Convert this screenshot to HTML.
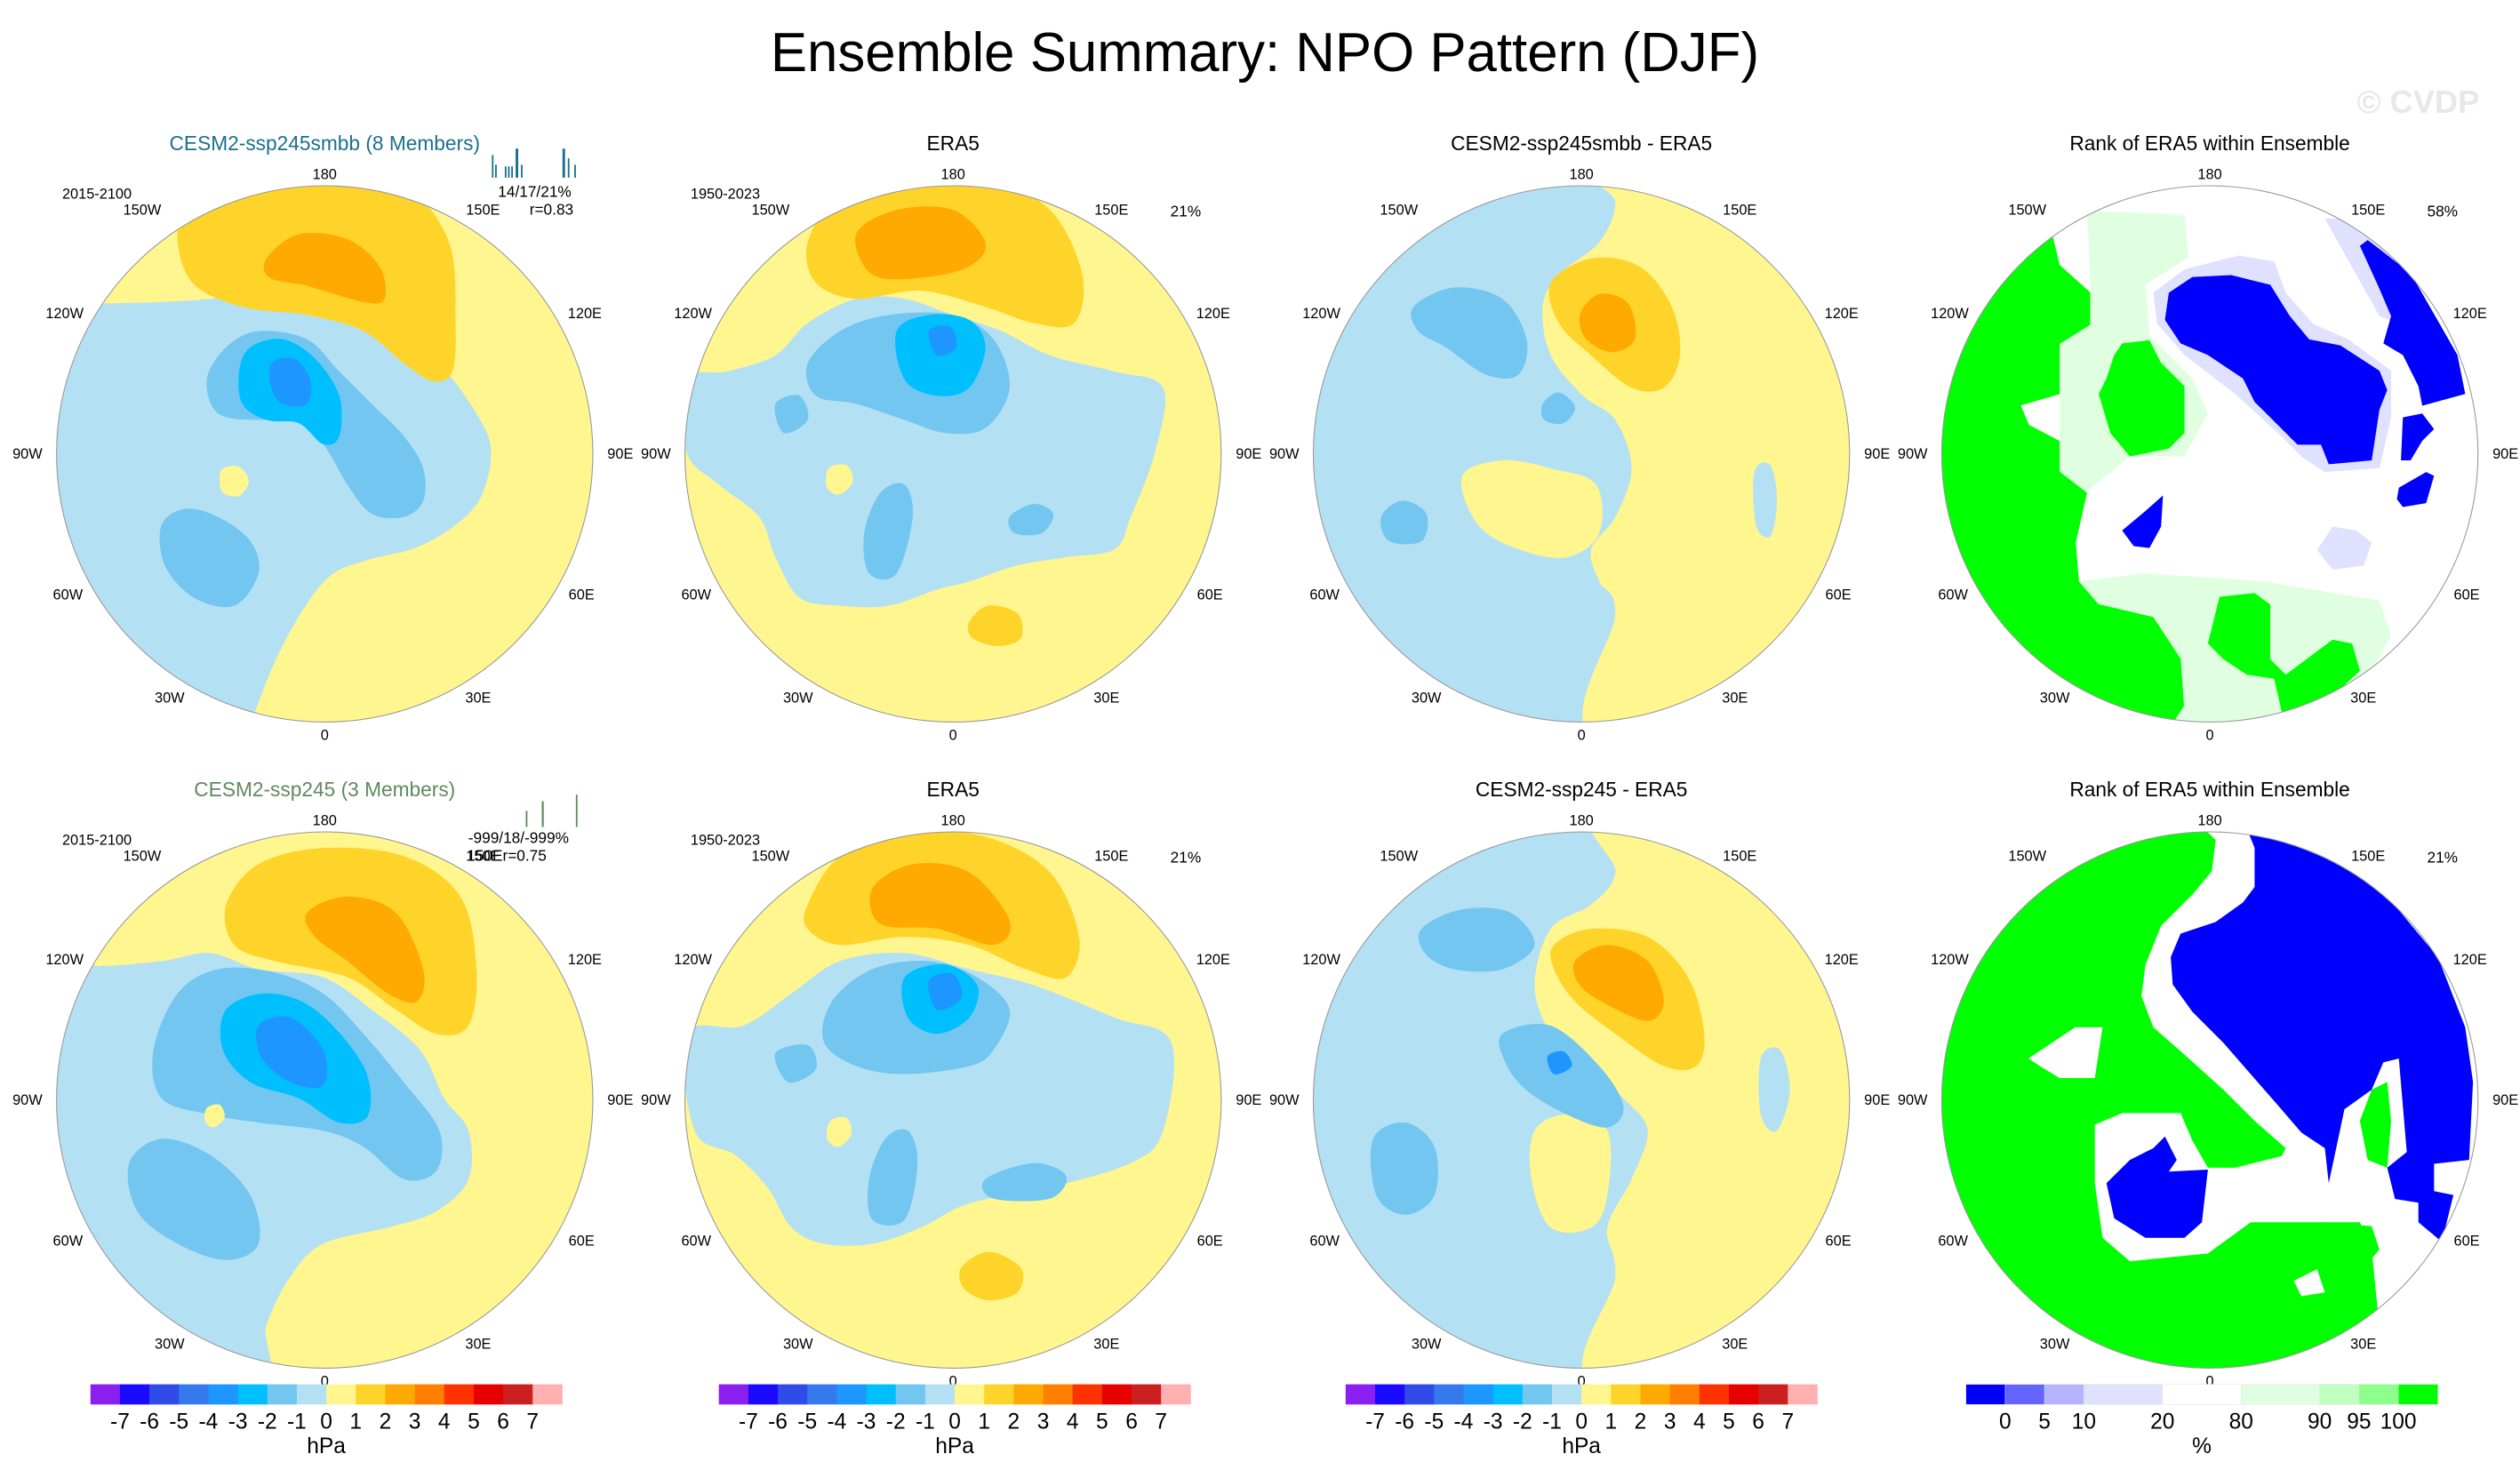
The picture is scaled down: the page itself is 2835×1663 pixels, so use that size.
<!DOCTYPE html>
<html><head><meta charset="utf-8"><title>Ensemble Summary: NPO Pattern (DJF)</title>
<style>html,body{margin:0;padding:0;background:#fff}svg{display:block}text{font-family:"Liberation Sans",sans-serif}</style>
</head><body>
<svg id="fig" xmlns="http://www.w3.org/2000/svg" width="2835" height="1663" viewBox="0 0 1560 915" preserveAspectRatio="none">
<text x="783" y="44" font-size="34" text-anchor="middle" textLength="612" lengthAdjust="spacingAndGlyphs">Ensemble Summary: NPO Pattern (DJF)</text>
<text x="1497" y="70" font-size="20" font-weight="bold" fill="#e8e8e8" text-anchor="middle">© CVDP</text>
<g id="panels"></g>
<g id="cbars"></g>
</svg>
<script>
// ---- colorbar data ----
const pslLevels = [-7,-6,-5,-4,-3,-2,-1,0,1,2,3,4,5,6,7];
const pslColors = ["#8a1ff0","#1a0aff","#2f4be8","#3679ea","#1e96ff","#00bfff","#73c6f0","#b4e0f4","#fff68f","#ffd42a","#ffaa00","#ff7f00","#ff3300","#e60000","#cc1f1f","#ffb0b0"];
const rankLabels = ["0","5","10","20","80","90","95","100"];
const rankUnits = [1,1,1,2,2,2,1,1,1];
const rankColors = ["#0000ff","#6464ff","#b4b4ff","#e0e0ff","#ffffff","#e0ffe0","#c0ffc0","#8cff8c","#00ff00"];

const NS="http://www.w3.org/2000/svg";
const C={y:"#fff68f",lb:"#b4e0f4",mb:"#73c6f0",cy:"#00bfff",db:"#1e96ff",g:"#ffd42a",o:"#ffaa00",w:"#ffffff",gr:"#00ff00",lg:"#e0ffe0",bl:"#0000ff",lv:"#e0e0ff"};
function el(tag,attrs,parent){const e=document.createElementNS(NS,tag);for(const k in attrs)e.setAttribute(k,attrs[k]);parent.appendChild(e);return e;}
function smooth(p){let d="M"+p[0][0]+","+p[0][1];const n=p.length;for(let i=0;i<n;i++){const p0=p[(i-1+n)%n],p1=p[i],p2=p[(i+1)%n],p3=p[(i+2)%n];
d+=" C"+(p1[0]+(p2[0]-p0[0])/6).toFixed(1)+","+(p1[1]+(p2[1]-p0[1])/6).toFixed(1)+" "+(p2[0]-(p3[0]-p1[0])/6).toFixed(1)+","+(p2[1]-(p3[1]-p1[1])/6).toFixed(1)+" "+p2[0]+","+p2[1];}return d+"Z";}
function poly(p){return "M"+p.map(q=>q[0].toFixed(1)+","+q[1].toFixed(1)).join("L")+"Z";}
function mapZ(p,oy){return p.map(q=>[1183.3+q[0]*0.2414,oy+q[1]*0.2414]);}

const panels=[
 {cx:201,cy:281,bg:C.y,title:"CESM2-ssp245smbb (8 Members)",tc:"#1a6f8f",left:"2015-2100",smooth:true,shapes:[
  [C.lb,[[20,190],[62,188],[100,187],[130,185],[180,180],[215,190],[240,205],[265,220],[282,237],[300,265],[304,282],[300,302],[292,316],[275,330],[255,340],[230,346],[205,356],[186,380],[170,410],[158,440],[150,460],[20,460]]],
  [C.g,[[115,130],[140,110],[200,104],[250,115],[278,150],[282,200],[280,230],[268,236],[250,225],[225,205],[190,195],[150,190],[120,176],[110,150]]],
  [C.o,[[165,160],[185,145],[215,148],[235,165],[238,185],[225,187],[190,177],[167,172]]],
  [C.mb,[[140,215],[160,205],[190,210],[210,230],[230,250],[250,270],[262,290],[262,310],[250,320],[230,318],[215,300],[200,275],[180,258],[160,260],[135,256],[128,235]]],
  [C.mb,[[100,325],[115,315],[135,320],[155,335],[160,355],[145,375],[120,370],[102,350]]],
  [C.cy,[[155,215],[175,210],[195,222],[210,245],[210,270],[200,275],[185,262],[165,260],[150,250],[148,230]]],
  [C.db,[[168,225],[182,222],[192,235],[190,250],[175,250],[168,240]]],
  [C.y,[[138,290],[148,289],[154,298],[148,307],[138,305],[136,296]]]]},
 {cx:590,cy:281,bg:C.y,title:"ERA5",tc:"#000",left:"1950-2023",right:"21%",smooth:true,shapes:[
  [C.lb,[[425,235],[450,230],[480,220],[500,200],[530,185],[560,185],[590,195],[620,205],[650,220],[690,230],[720,240],[715,280],[700,320],[690,340],[660,345],[630,350],[600,360],[580,365],[550,375],[520,375],[495,370],[480,345],[470,320],[445,300],[425,280]]],
  [C.g,[[500,150],[520,120],[560,105],[610,110],[650,130],[670,170],[665,200],[640,200],[610,190],[570,180],[530,185],[505,175]]],
  [C.o,[[530,145],[555,130],[590,130],[610,150],[600,165],[570,172],[540,170]]],
  [C.mb,[[500,225],[520,205],[550,195],[590,195],[615,210],[625,240],[610,265],[585,268],[560,260],[530,250],[505,245]]],
  [C.mb,[[535,330],[545,305],[560,300],[565,320],[555,355],[538,355]]],
  [C.mb,[[625,320],[640,312],[652,318],[645,330],[628,330]]],
  [C.mb,[[480,250],[495,245],[500,260],[485,268]]],
  [C.cy,[[555,205],[575,195],[600,198],[610,215],[600,240],[580,245],[560,235]]],
  [C.db,[[575,205],[588,202],[592,215],[580,220]]],
  [C.g,[[600,385],[612,375],[630,380],[632,395],[618,400],[602,395]]],
  [C.y,[[513,290],[524,288],[528,298],[520,306],[512,302]]]]},
 {cx:979,cy:281,bg:C.lb,title:"CESM2-ssp245smbb - ERA5",tc:"#000",smooth:true,shapes:[
  [C.y,[[990,100],[1000,125],[990,150],[965,170],[955,190],[960,220],[980,245],[1000,260],[1010,290],[1000,320],[985,340],[990,360],[1000,380],[990,460],[1170,460],[1170,100]]],
  [C.y,[[905,295],[930,285],[960,290],[988,300],[990,330],[970,345],[940,340],[915,325]]],
  [C.lb,[[1086,292],[1096,288],[1100,310],[1096,332],[1087,325]]],
  [C.g,[[960,175],[985,160],[1015,165],[1035,190],[1040,220],[1030,240],[1010,240],[985,220],[965,200]]],
  [C.o,[[978,195],[990,182],[1008,188],[1012,210],[998,218],[982,210]]],
  [C.mb,[[875,190],[900,178],[930,185],[945,210],[940,232],[920,232],[895,215],[878,205]]],
  [C.mb,[[855,320],[868,310],[883,318],[880,335],[860,335]]],
  [C.mb,[[955,250],[965,243],[975,252],[968,262],[956,260]]]]},
 {cx:1368,cy:281,bg:C.w,title:"Rank of ERA5 within Ensemble",tc:"#000",right:"58%",smooth:false,shapes:[
  [C.lg,mapZ([[450,130],[700,140],[710,250],[600,320],[610,450],[720,560],[760,650],[700,760],[560,760],[450,850],[380,800],[380,470],[460,420],[460,340]],99.1)],
  [C.lg,mapZ([[430,1080],[600,1060],[900,1080],[1200,1130],[1230,1220],[1170,1330],[1000,1470],[800,1500],[620,1500],[690,1280],[620,1170],[480,1140]],99.1)],
  [C.gr,[[1292,120],[1292,130],[1270,143],[1275,164],[1294,181],[1294,201],[1275,213],[1275,244],[1251,251],[1256,263],[1275,273],[1275,292],[1292,305],[1285,336],[1287,360],[1299,374],[1333,382],[1350,408],[1352,437],[1343,451],[1318,449],[1300,470],[1180,470],[1180,120]]],
  [C.gr,mapZ([[540,470],[610,462],[640,520],[700,580],[700,700],[660,740],[560,760],[510,700],[480,600],[500,560],[520,500]],99.1)],
  [C.gr,mapZ([[790,1120],[880,1110],[920,1140],[920,1280],[960,1320],[1080,1230],[1130,1240],[1150,1310],[1000,1450],[960,1460],[930,1330],[860,1320],[800,1280],[760,1240]],99.1)],
  [C.gr,mapZ([[820,1470],[900,1455],[945,1500],[820,1510]],99.1)],
  [C.lv,mapZ([[620,340],[700,280],[840,245],[930,260],[960,340],[1030,420],[1120,460],[1230,540],[1230,660],[1200,790],[1060,800],[1000,760],[940,700],[830,600],[700,500],[630,420]],99.1)],
  [C.lv,mapZ([[1040,1000],[1080,940],[1140,950],[1180,980],[1160,1040],[1080,1050]],99.1)],
  [C.lv,mapZ([[1060,150],[1130,150],[1230,250],[1250,420],[1200,400]],99.1)],
  [C.bl,mapZ([[660,340],[720,300],[820,295],[920,320],[970,400],[1020,460],[1100,475],[1200,540],[1220,590],[1200,640],[1180,770],[1070,780],[1050,730],[990,730],[920,660],[880,620],[850,560],[760,500],[690,470],[650,410]],99.1)],
  [C.bl,mapZ([[1150,220],[1170,205],[1280,290],[1400,500],[1420,600],[1310,630],[1300,580],[1260,500],[1210,470],[1230,400],[1200,330]],99.1)],
  [C.bl,mapZ([[1260,660],[1310,650],[1340,690],[1310,720],[1280,770],[1255,770]],99.1)],
  [C.bl,mapZ([[1250,840],[1320,800],[1340,810],[1320,880],[1260,890],[1245,870]],99.1)],
  [C.bl,mapZ([[540,950],[600,900],[645,860],[640,940],[610,995],[570,990]],99.1)]]},
 {cx:201,cy:681,bg:C.y,title:"CESM2-ssp245 (3 Members)",tc:"#5f8a5f",left:"2015-2100",smooth:true,shapes:[
  [C.lb,[[20,595],[60,598],[100,595],[130,590],[160,600],[200,605],[230,625],[260,650],[275,680],[290,700],[290,730],[270,750],[240,760],[200,770],[180,790],[165,820],[155,860],[20,860]]],
  [C.g,[[140,560],[160,535],[200,525],[250,530],[285,555],[295,600],[290,635],[270,640],[245,625],[215,605],[170,595],[145,585]]],
  [C.o,[[190,565],[215,555],[245,565],[262,600],[258,620],[240,615],[215,595],[195,580]]],
  [C.mb,[[110,615],[135,600],[170,602],[200,615],[225,640],[250,670],[272,700],[270,725],[250,730],[225,710],[200,700],[160,695],[130,690],[100,680],[95,650]]],
  [C.mb,[[80,720],[100,705],[130,715],[155,740],[160,770],[140,780],[110,770],[85,750]]],
  [C.cy,[[140,625],[165,615],[195,625],[225,660],[228,690],[210,695],[185,680],[155,670],[138,650]]],
  [C.db,[[160,635],[180,630],[200,650],[200,672],[180,670],[162,655]]],
  [C.y,[[128,686],[136,684],[139,692],[132,698],[127,694]]]]},
 {cx:590,cy:681,bg:C.y,title:"ERA5",tc:"#000",left:"1950-2023",right:"21%",smooth:true,shapes:[
  [C.lb,[[425,640],[460,635],[490,615],[520,595],[560,590],[600,600],[640,610],[690,630],[725,645],[720,700],[700,720],[650,735],[600,745],[570,760],[540,770],[510,770],[490,760],[475,735],[455,715],[430,700]]],
  [C.g,[[500,560],[520,530],[560,515],[610,518],[650,540],[668,580],[660,605],[635,600],[600,585],[560,580],[520,585],[500,575]]],
  [C.o,[[540,550],[565,535],[600,540],[625,570],[615,585],[580,575],[545,572]]],
  [C.mb,[[515,620],[540,600],[575,595],[605,605],[625,625],[615,650],[600,660],[560,665],[530,660],[510,645]]],
  [C.mb,[[538,730],[548,705],[562,700],[568,720],[560,755],[540,755]]],
  [C.mb,[[610,730],[640,720],[660,728],[650,742],[615,742]]],
  [C.mb,[[480,652],[500,647],[505,662],[488,670]]],
  [C.cy,[[560,605],[585,597],[605,610],[600,630],[580,640],[562,630]]],
  [C.db,[[575,607],[590,603],[595,618],[580,625]]],
  [C.g,[[595,785],[612,775],[632,785],[630,800],[612,805],[597,798]]],
  [C.y,[[514,694],[524,692],[527,702],[519,710],[512,705]]]]},
 {cx:979,cy:681,bg:C.lb,title:"CESM2-ssp245 - ERA5",tc:"#000",smooth:true,shapes:[
  [C.y,[[995,500],[1000,540],[985,560],[960,575],[950,610],[960,640],[980,660],[1005,680],[1020,700],[1010,730],[995,760],[1000,790],[990,860],[1170,860],[1170,500]]],
  [C.y,[[950,700],[970,690],[995,700],[995,740],[985,760],[960,760],[948,730]]],
  [C.lb,[[1090,655],[1102,650],[1108,675],[1100,700],[1090,690]]],
  [C.g,[[962,585],[985,575],[1020,580],[1045,605],[1055,640],[1050,660],[1030,660],[1000,640],[975,620],[962,600]]],
  [C.o,[[975,595],[995,585],[1020,595],[1030,620],[1020,632],[995,622],[978,610]]],
  [C.mb,[[880,575],[905,563],[935,565],[950,585],[930,600],[900,600],[882,590]]],
  [C.mb,[[850,705],[870,695],[888,710],[888,740],[870,752],[852,740]]],
  [C.mb,[[930,640],[960,635],[990,660],[1005,685],[995,698],[970,690],[945,675],[932,658]]],
  [C.db,[[958,654],[968,651],[973,660],[962,665]]]]},
 {cx:1368,cy:681,bg:C.gr,title:"Rank of ERA5 within Ensemble",tc:"#000",right:"21%",smooth:false,shapes:[
  [C.w,mapZ([[730,30],[1500,30],[1500,1300],[1200,1330],[1180,1130],[1150,1060],[1050,1060],[870,1060],[760,1140],[560,1160],[490,1100],[470,960],[470,810],[540,780],[690,780],[720,850],[760,920],[830,920],[950,890],[960,870],[880,800],[800,720],[700,630],[620,560],[590,480],[600,400],[640,300],[720,220],[770,160],[780,80]],500.8)],
  [C.gr,mapZ([[1050,1060],[1180,1070],[1200,1130],[1140,1200],[1130,1300],[1100,1330],[1040,1200]],500.8)],
  [C.bl,mapZ([[860,50],[1000,70],[1200,200],[1350,380],[1420,560],[1440,700],[1430,900],[1340,910],[1340,980],[1390,990],[1360,1110],[1300,1060],[1300,1010],[1240,1000],[1220,920],[1270,880],[1250,640],[1210,650],[1180,720],[1110,770],[1100,820],[1070,960],[1060,870],[1000,830],[940,760],[870,680],[800,600],[720,520],[670,450],[665,380],[690,320],[780,290],[850,240],[880,200],[880,100]],500.8)],
  [C.gr,mapZ([[1180,720],[1220,700],[1230,800],[1220,920],[1170,900],[1150,800]],500.8)],
  [C.bl,mapZ([[500,960],[560,900],[620,870],[650,840],[680,900],[660,930],[760,925],[745,1060],[700,1100],[600,1100],[520,1050]],500.8)],
  [C.w,mapZ([[300,640],[360,600],[420,560],[490,560],[470,690],[380,690],[330,660]],500.8)],
  [C.w,mapZ([[980,1210],[1040,1180],[1060,1240],[1000,1250]],500.8)]]}
];
const lonLabels=[["180",0,-173],["150E",98,-151],["120E",161,-87],["90E",183,0],["60E",159,87],["30E",95,151],["0",0,174],["30W",-96,151],["60W",-159,87],["90W",-184,0],["120W",-161,-87],["150W",-113,-151]];
const R=166;
const G=document.getElementById("panels");
panels.forEach((p,i)=>{
  const g=el("g",{},G);
  
  
  const cp=el("clipPath",{id:"clip"+i},g);
  el("circle",{cx:p.cx,cy:p.cy,r:R},cp);
  const m=el("g",{"clip-path":"url(#clip"+i+")"},g);
  const bg=el("circle",{cx:p.cx,cy:p.cy,r:R+2,fill:p.bg},m);
  
  
  p.shapes.forEach((s,j)=>{
    const path=el("path",{d:p.smooth?smooth(s[1]):poly(s[1]),fill:s[0]},m);
    
    
  });
  const rim=el("circle",{cx:p.cx,cy:p.cy,r:R,fill:"none",stroke:"#999","stroke-width":0.6},g);
  
  
  const t=el("text",{x:p.cx,y:p.cy-188,"font-size":12.5,"text-anchor":"middle",fill:p.tc},g);
  t.textContent=p.title;
  
  
  lonLabels.forEach(l=>{
    const lt=el("text",{x:p.cx+l[1],y:p.cy+l[2]+3,"font-size":9,"text-anchor":"middle"},g);
    lt.textContent=l[0];
    
    
  });
  if(p.left){const a=el("text",{x:p.cx-141,y:p.cy-158,"font-size":9,"text-anchor":"middle"},g);a.textContent=p.left;
    
    }
  if(p.right){const b=el("text",{x:p.cx+144,y:p.cy-147,"font-size":9.5,"text-anchor":"middle"},g);b.textContent=p.right;
    
    }
});
function addText(x,y,s,txt,name,anchor,fill){const t=el("text",{x:x,y:y,"font-size":s,"text-anchor":anchor||"middle",fill:fill||"#000"},G);t.textContent=txt;
  
  }
addText(331,122,9.5,"14/17/21%","pattern-stats");
addText(355,133,9.5,"r=0.83","pattern-correlation","end");
addText(321,522,9.5,"-999/18/-999%","pattern-stats");
addText(289,533,9.5,"150Er=0.75","pattern-correlation","start");
const ticks1=[[305,1,14],[307,1,8],[313,1,7],[315,1,7],[317,1,7],[320,1.6,18],[323,1,8],[349,1.6,18],[352,1,12],[356,1,8]];
ticks1.forEach(t=>{const l=el("line",{x1:t[0],x2:t[0],y1:110-t[2],y2:110,stroke:"#1a6f8f","stroke-width":t[1]},G);
  
  });
const ticks2=[[326,1,10],[336,1.2,16],[357,1,20]];
ticks2.forEach(t=>{const l=el("line",{x1:t[0],x2:t[0],y1:512-t[2],y2:512,stroke:"#5f8a5f","stroke-width":t[1]},G);
  
  });

const CB=document.getElementById("cbars");
const cbY=857,cbH=12.5;
[56,445,833].forEach((x0,k)=>{
  const w=292/pslColors.length;
  const g=el("g",{},CB);
  
  
  pslColors.forEach((c,i)=>{const r=el("rect",{x:x0+i*w,y:cbY,width:w+0.2,height:cbH,fill:c},g);
    
    });
  pslLevels.forEach((v,i)=>{const t=el("text",{x:x0+(i+1)*w,y:cbY+cbH+15,"font-size":13.5,"text-anchor":"middle"},g);t.textContent=v;
    
    });
  const u=el("text",{x:x0+146,y:cbY+cbH+30,"font-size":13.5,"text-anchor":"middle"},g);u.textContent="hPa";
  
  
});
(function(){
  const x0=1217,total=292,uw=total/rankUnits.reduce((a,b)=>a+b,0);
  const g=el("g",{},CB);
  
  
  let x=x0;const bounds=[];
  rankColors.forEach((c,i)=>{const w=rankUnits[i]*uw;const r=el("rect",{x:x,y:cbY,width:w+0.2,height:cbH,fill:c,stroke:"#e4e4e4","stroke-width":0.3},g);
    
    
    x+=w;bounds.push(x);});
  rankLabels.forEach((v,i)=>{const t=el("text",{x:bounds[i],y:cbY+cbH+15,"font-size":13.5,"text-anchor":"middle"},g);t.textContent=v;
    
    });
  const u=el("text",{x:x0+146,y:cbY+cbH+30,"font-size":13.5,"text-anchor":"middle"},g);u.textContent="%";
  
  
})();
</script>
</body></html>
